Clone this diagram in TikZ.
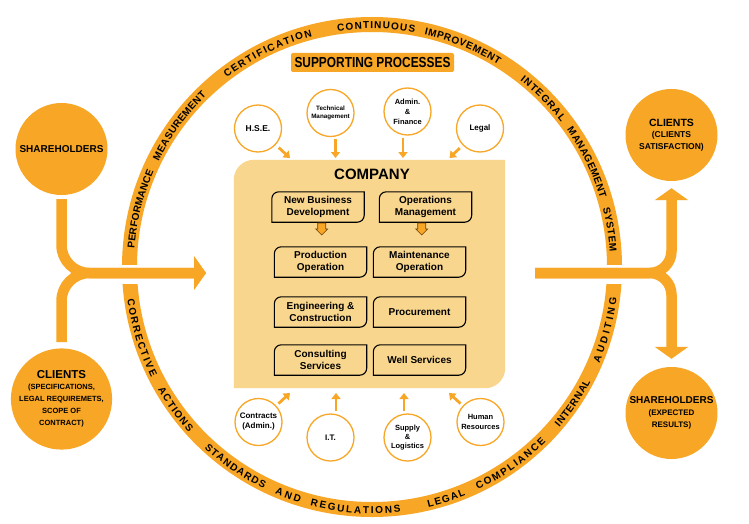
\documentclass[tikz,border=0pt]{standalone}
\usepackage{fontspec}
\setmainfont{Liberation Sans}
\newfontfamily\narrowfont[FakeStretch=0.82]{Liberation Sans}
\usetikzlibrary{arrows.meta,decorations.text}
\definecolor{orng}{RGB}{247,166,38}
\definecolor{peach}{RGB}{249,214,142}
\definecolor{arrowbrown}{RGB}{110,65,10}
\newcommand{\ringfont}{\fontsize{10}{10}\selectfont\bfseries}
\newcommand{\upword}[3]{\path[decorate,decoration={text along path,text align={fit to path},text={|\ringfont|#3}}] ([shift={(372pt,-267pt)}]#1:238.3pt) arc[start angle=#1,end angle=#2,radius=238.3pt];}
\newcommand{\downword}[3]{\path[decorate,decoration={text along path,text align={fit to path},text={|\ringfont|#3}}] ([shift={(372pt,-267pt)}]#1:246.7pt) arc[start angle=#1,end angle=#2,radius=246.7pt];}
\newcommand{\cornerframe}[2]{\draw[boxline] (#1.south west) -- ([yshift=-#2]#1.north west) arc[start angle=180,end angle=90,radius=#2] -- (#1.north east) -- ([yshift=#2]#1.south east) arc[start angle=0,end angle=-90,radius=#2] -- cycle;}
\newcommand{\blockdown}[1]{\filldraw[fill=orng,draw=arrowbrown,line width=0.6pt] (#1-4,-223) -- (#1+4,-223) -- (#1+4,-229) -- (#1+6,-229) -- (#1,-235) -- (#1-6,-229) -- (#1-4,-229) -- cycle;}
\begin{document}
\begin{tikzpicture}[x=1pt,y=1pt,
  bigcirc/.style={circle,fill=orng,minimum size=92pt,inner sep=0pt,align=center},
  smallcirc/.style={circle,draw=orng,line width=1.3pt,fill=white,minimum size=47pt,inner sep=0pt,align=center,font=\bfseries\fontsize{8}{10}\selectfont},
  ibox/.style={minimum width=92pt,minimum height=30pt,inner sep=0pt,align=center,font=\bfseries\fontsize{10}{12}\selectfont},
  boxline/.style={draw=black,line width=1.1pt},
  bigflow/.style={draw=orng,line width=10.5pt},
  bighead/.style={-{Triangle[length=12pt 0 0,width=33pt 0 0]}},
  feed/.style={draw=orng,line width=2.8pt,-{Triangle[length=6pt 0 0,width=9pt 0 0]}},
]
\fill[white] (0,0) rectangle (749,-524);
\useasboundingbox (0,0) rectangle (749,-524);

% ring
\begin{scope}
\clip (0,0) rectangle (749,-264);
\fill[orng,even odd rule] (372,-267) circle[radius=250pt] (372,-267) circle[radius=235pt];
\end{scope}
\begin{scope}
\clip (0,-284) rectangle (749,-524);
\fill[orng,even odd rule] (372,-267) circle[radius=250pt] (372,-267) circle[radius=235pt];
\end{scope}

% ring words (upper half)
\upword{175.6}{156.3}{PERFORMANCE}
\upword{153.6}{134}{MEASUREMENT}
\upword{127.5}{104.5}{CERTIFICATION}
\upword{98.3}{79.7}{CONTINUOUS}
\upword{77.3}{58}{IMPROVEMENT}
\upword{51.6}{37.5}{INTEGRAL}
\upword{35.1}{16.7}{MANAGEMENT}
\upword{14.3}{3.7}{SYSTEM}
% ring words (lower half)
\downword{187.5}{206.5}{CORRECTIVE}
\downword{209.8}{222}{ACTIONS}
\downword{227.2}{244}{STANDARDS}
\downword{246.8}{253}{AND}
\downword{255.5}{276.7}{REGULATIONS}
\downword{283.2}{292.3}{LEGAL}
\downword{295.4}{314.8}{COMPLIANCE}
\downword{319.4}{332.3}{INTERNAL}
\downword{337.1}{352.8}{AUDITING}

% supporting processes
\node[fill=orng,rounded corners=2pt,minimum width=163pt,minimum height=19pt,inner sep=0pt,font=\narrowfont\bfseries\fontsize{14.5}{16}\selectfont] (sp) at (372.5,-62.5) {SUPPORTING PROCESSES};

% company
\node[minimum width=271pt,minimum height=228pt,inner sep=0pt] (company) at (369.5,-274) {};
\fill[peach] (company.south west) -- ([yshift=-20pt]company.north west) arc[start angle=180,end angle=90,radius=20pt] -- (company.north east) -- ([yshift=20pt]company.south east) arc[start angle=0,end angle=-90,radius=20pt] -- cycle;
\node[font=\bfseries\fontsize{15}{18}\selectfont] (ctitle) at (372,-174) {COMPANY};

\node[ibox] (nbd) at (318,-207) {New Business\\Development};
\node[ibox] (om) at (425.5,-207) {Operations\\Management};
\node[ibox] (po) at (320.5,-262) {Production\\Operation};
\node[ibox] (mo) at (419.5,-262) {Maintenance\\Operation};
\node[ibox] (ec) at (320.5,-312) {Engineering \&\\Construction};
\node[ibox] (pc) at (419.5,-312) {Procurement};
\node[ibox] (cs) at (320.5,-360) {Consulting\\Services};
\node[ibox] (ws) at (419.5,-360) {Well Services};
\foreach \n in {nbd,om,po,mo,ec,pc,cs,ws} {\cornerframe{\n}{7pt}}
\blockdown{321.7}
\blockdown{421.7}

% supporting circles
\node[smallcirc,font=\bfseries\fontsize{8.5}{10}\selectfont] (hse) at (258,-128.5) {H.S.E.};
\node[smallcirc,font=\bfseries\fontsize{6.3}{7.8}\selectfont] (tm) at (330.5,-113) {Technical\\Management};
\node[smallcirc,font=\bfseries\fontsize{7.5}{10}\selectfont] (af) at (407.5,-111.5) {Admin.\\\&\\Finance};
\node[smallcirc] (legal) at (480,-128.5) {Legal};
\node[smallcirc] (ctr) at (258.5,-422) {Contracts\\(Admin.)};
\node[smallcirc] (it) at (330.5,-437.5) {I.T.};
\node[smallcirc,font=\bfseries\fontsize{7.5}{9.3}\selectfont] (sl) at (407.5,-437.5) {Supply\\\&\\Logistics};
\node[smallcirc,font=\bfseries\fontsize{7.5}{9.3}\selectfont] (hr) at (480.5,-422) {Human\\Resources};

\coordinate (a1) at (290,-158);
\coordinate (a2) at (335.5,-158);
\coordinate (a3) at (403,-158);
\coordinate (a4) at (449.5,-158);
\coordinate (b1) at (290,-393);
\coordinate (b2) at (336,-393);
\coordinate (b3) at (404,-393);
\coordinate (b4) at (449,-393);
\draw[feed,shorten <=4pt] (hse) -- (a1);
\draw[feed,shorten <=2pt] (tm.south -| a2) -- (a2);
\draw[feed,shorten <=2pt] (af.south -| a3) -- (a3);
\draw[feed,shorten <=4pt] (legal) -- (a4);
\draw[feed,shorten <=3pt] (ctr) -- (b1);
\draw[feed,shorten <=2pt] (it.north -| b2) -- (b2);
\draw[feed,shorten <=2pt] (sl.north -| b3) -- (b3);
\draw[feed,shorten <=3pt] (hr) -- (b4);

% big circles
\node[bigcirc] (shL) at (61.5,-149) {\bfseries\fontsize{10}{12}\selectfont SHAREHOLDERS};
\node[bigcirc] (clL) at (61.5,-399) {\bfseries\fontsize{11.5}{13}\selectfont CLIENTS\\[-1.5pt]\bfseries\fontsize{7.5}{10.5}\selectfont (SPECIFICATIONS,\\\bfseries\fontsize{7.5}{10.5}\selectfont LEGAL REQUIREMETS,\\\bfseries\fontsize{7.5}{10.5}\selectfont SCOPE OF\\\bfseries\fontsize{7.5}{10.5}\selectfont CONTRACT)};
\node[bigcirc] (clR) at (671.5,-135) {\bfseries\fontsize{10.5}{13}\selectfont CLIENTS\\[-1pt]\bfseries\fontsize{8.5}{12}\selectfont (CLIENTS\\\bfseries\fontsize{8.5}{12}\selectfont SATISFACTION)};
\node[bigcirc] (shR) at (671.5,-413) {\bfseries\fontsize{10}{11}\selectfont SHAREHOLDERS\\\bfseries\fontsize{8}{11}\selectfont (EXPECTED\\\bfseries\fontsize{8}{11}\selectfont RESULTS)};

% big flows
\coordinate (tipL) at (206,-273);
\coordinate (inR) at (535,-273);
\draw[bigflow,bighead,rounded corners=28pt,shorten <=4pt] (shL.south) |- (tipL);
\draw[bigflow,bighead,rounded corners=28pt,shorten <=6pt] (clL.north) |- (tipL);
\draw[bigflow,bighead,rounded corners=22pt,shorten >=7pt] (inR) -| (clR.south);
\draw[bigflow,bighead,rounded corners=22pt,shorten >=8pt] (inR) -| (shR.north);
\end{tikzpicture}
\end{document}
